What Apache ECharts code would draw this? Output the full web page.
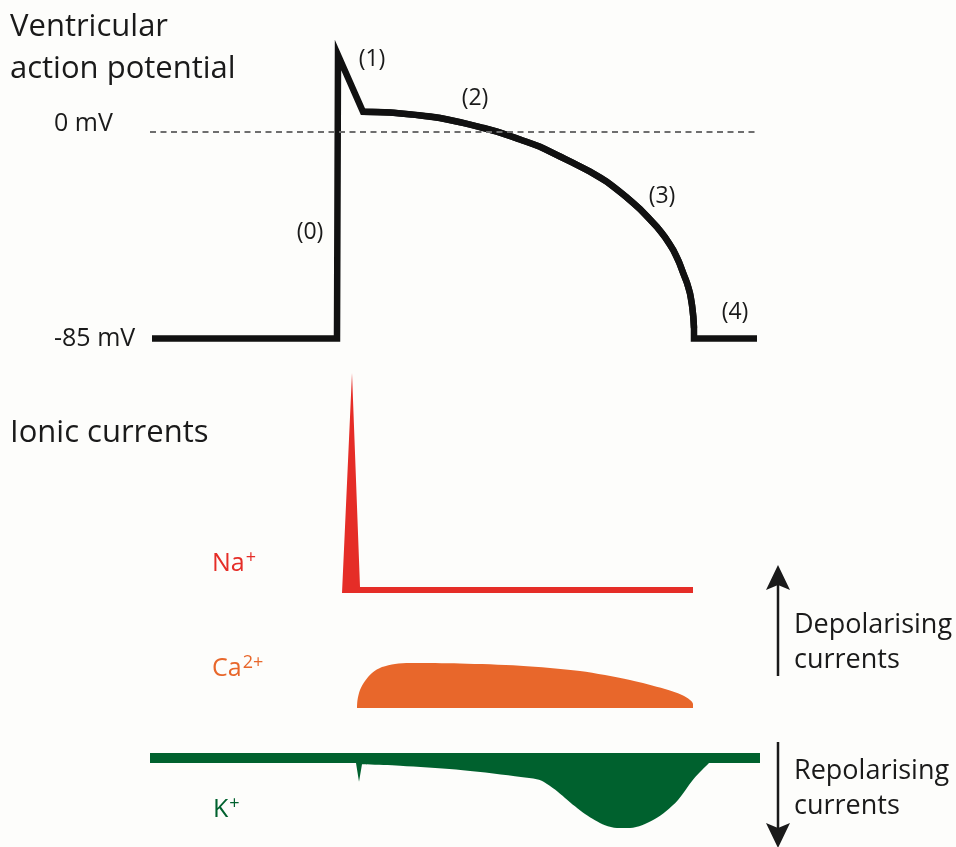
<!DOCTYPE html>
<html>
<head>
<meta charset="utf-8">
<script src="https://cdn.jsdelivr.net/npm/echarts@6/dist/echarts.min.js"></script>
<style>
html,body{margin:0;padding:0;background:#fdfdfb;}
#main{width:956px;height:847px;}
</style>
</head>
<body>
<div id="main"></div>
<script>
// ---- Data (time in ms relative to upstroke) ----
// Ventricular action potential (mV)
var apTime = [-185, 0, 1, 26, 53, 76, 103, 126, 143, 160, 183, 203, 223, 236, 253, 269.7, 289, 303, 319.7, 328, 336.3, 342, 346.3, 350, 353, 355, 356.3, 357, 357, 420];
var apMV   = [-85, -85, 31.4, 8.1, 7.8, 6.9, 5.5, 3.5, 1.8, -0.1, -3.3, -6.3, -10.3, -12.9, -16.5, -20.6, -26.8, -31.9, -39.1, -43.4, -48.7, -53.6, -58.3, -62.2, -66.5, -71.3, -76.1, -80.7, -85, -85];
// plateau / repolarisation part (phases 1-3), index range into the arrays above
var plateauFrom = 3, plateauTo = 28;
var mvTicks = [0, -85];
var phaseNames = ['(0)', '(1)', '(2)', '(3)', '(4)'];
var phaseTime  = [-27, 35, 138, 325, 398];
var phaseMV    = [-41.3, 29.7, 13.7, -26.5, -74.5];

// Na+ current (relative, depolarising)
var naTime = [5, 15, 23, 356, 356];
var naVal  = [0, 1.0, 0.027, 0.027, 0];

// Ca2+ current (relative, depolarising)
var caTime = [20, 20.5, 23, 28, 35, 45, 58, 73, 123, 183, 243, 293, 328, 345, 353, 356, 356];
var caVal  = [0, 0.18, 0.40, 0.60, 0.78, 0.91, 0.98, 1.0, 0.99, 0.94, 0.82, 0.62, 0.42, 0.29, 0.18, 0.09, 0];

// K+ current (relative, repolarising = negative)
var kBaseTime = [-187, 423];
var kBaseVal  = [0, 0];
var kSpikeTime = [15, 19, 22, 25, 30];
var kSpikeVal  = [-0.07, -0.07, -0.34, -0.09, -0.09];
var kTime = [28, 30, 63, 119, 178, 202, 210, 218, 228, 238, 248, 258, 268, 280, 293, 305, 317, 329, 341, 356, 365, 372, 376];
var kVal  = [-0.07, -0.09, -0.11, -0.165, -0.26, -0.31, -0.37, -0.45, -0.57, -0.69, -0.80, -0.89, -0.96, -1.0, -1.0, -0.96, -0.88, -0.76, -0.60, -0.31, -0.17, -0.07, 0];

function zip(a, b) { return a.map(function (v, i) { return [v, b[i]]; }); }

var FONT = 'Open Sans';
var RED = '#e52d27', ORANGE = '#e8672b', GREEN = '#00612e', INK = '#1a1a1a';

var xMin = -187, xMax = 423;
function xAx(i) { return { type: 'value', gridIndex: i, min: xMin, max: xMax, show: false }; }

function ionLabel(name, sup, color) {
  return {
    text: '{b|' + name + '}{s|' + sup + '}',
    rich: {
      b: { fontFamily: FONT, fontSize: 25, fill: color, lineHeight: 30 },
      s: { fontFamily: FONT, fontSize: 18, fill: color, verticalAlign: 'top', lineHeight: 20, padding: [0, 0, 0, 1] }
    }
  };
}

var apData = zip(apTime, apMV);

var chart = echarts.init(document.getElementById('main'), null, { renderer: 'canvas' });
chart.setOption({
  backgroundColor: '#fdfdfb',
  animation: false,
  grid: [
    { left: 150, width: 610, top: 34, height: 341 },
    { left: 150, width: 610, top: 362, height: 231 },
    { left: 150, width: 610, top: 663, height: 45 },
    { left: 150, width: 610, top: 751, height: 84 }
  ],
  xAxis: [xAx(0), xAx(1), xAx(2), xAx(3)],
  yAxis: [
    { type: 'value', gridIndex: 0, min: -100, max: 40,
      axisLine: { show: false }, axisTick: { show: false }, splitLine: { show: false },
      axisLabel: {
        customValues: mvTicks, align: 'left', margin: 96,
        formatter: function (v) { return v === 0 ? '{z|' + v + ' mV}' : '{n|' + v + ' mV}'; },
        rich: {
          z: { fontFamily: FONT, fontSize: 25, color: INK, padding: [0, 0, 16, 0] },
          n: { fontFamily: FONT, fontSize: 25, color: INK }
        }
      } },
    { type: 'value', gridIndex: 1, min: 0, max: 1.05, show: false },
    { type: 'value', gridIndex: 2, min: 0, max: 1.0, show: false },
    { type: 'value', gridIndex: 3, min: -1.1, max: 0.1, show: false }
  ],
  series: [
    { type: 'line', xAxisIndex: 0, yAxisIndex: 0, data: apData, symbol: 'none',
      lineStyle: { color: '#111', width: 6.5, join: 'miter', cap: 'butt' },
      markLine: { silent: true, symbol: 'none', label: { show: false },
        lineStyle: { color: '#6e6e6e', width: 2, type: [6, 4.5] },
        data: [[{ coord: [xMin, 0] }, { coord: [420, 0] }]] },
      markPoint: { silent: true, symbol: 'circle', symbolSize: 0,
        label: { show: true, position: 'inside', fontFamily: FONT, fontSize: 23, color: INK, formatter: '{b}' },
        data: phaseNames.map(function (n, i) { return { name: n, coord: [phaseTime[i], phaseMV[i]] }; }) },
      z: 3 },
    { type: 'line', xAxisIndex: 0, yAxisIndex: 0, data: apData.slice(plateauFrom, plateauTo), symbol: 'none',
      smooth: 0.4, lineStyle: { color: '#111', width: 6.5, cap: 'butt' }, z: 4 },
    { type: 'line', xAxisIndex: 1, yAxisIndex: 1, data: zip(naTime, naVal), symbol: 'none',
      lineStyle: { width: 0 }, areaStyle: { color: RED, opacity: 1 } },
    { type: 'line', xAxisIndex: 2, yAxisIndex: 2, data: zip(caTime, caVal), symbol: 'none', smooth: 0.3,
      lineStyle: { width: 0 }, areaStyle: { color: ORANGE, opacity: 1 } },
    { type: 'line', xAxisIndex: 3, yAxisIndex: 3, data: zip(kBaseTime, kBaseVal), symbol: 'none',
      lineStyle: { color: GREEN, width: 10, cap: 'butt' } },
    { type: 'line', xAxisIndex: 3, yAxisIndex: 3, data: zip(kSpikeTime, kSpikeVal), symbol: 'none',
      lineStyle: { width: 0 }, areaStyle: { color: GREEN, opacity: 1 } },
    { type: 'line', xAxisIndex: 3, yAxisIndex: 3, data: zip(kTime, kVal), symbol: 'none', smooth: 0.3,
      lineStyle: { width: 0 }, areaStyle: { color: GREEN, opacity: 1 } }
  ],
  graphic: [
    { type: 'text', left: 10, top: 12, style: { text: 'Ventricular', font: '31px "Open Sans"', fill: INK } },
    { type: 'text', left: 10, top: 54, style: { text: 'action potential', font: '31px "Open Sans"', fill: INK } },
    { type: 'text', left: 10, top: 418, style: { text: 'Ionic currents', font: '31px "Open Sans"', fill: INK } },
    { type: 'text', left: 212, top: 549, style: ionLabel('Na', '+', RED) },
    { type: 'text', left: 212, top: 654, style: ionLabel('Ca', '2+', ORANGE) },
    { type: 'text', left: 213, top: 795, style: ionLabel('K', '+', GREEN) },
    { type: 'text', left: 794, top: 608, style: { text: 'Depolarising\ncurrents', font: '27px "Open Sans"', lineHeight: 35, fill: INK } },
    { type: 'text', left: 794, top: 754, style: { text: 'Repolarising\ncurrents', font: '27px "Open Sans"', lineHeight: 35, fill: INK } },
    { type: 'line', shape: { x1: 778, y1: 676, x2: 778, y2: 580 }, style: { stroke: INK, lineWidth: 2.5 } },
    { type: 'polygon', shape: { points: [[778, 565], [766, 590], [778, 585], [790, 590]] }, style: { fill: INK } },
    { type: 'line', shape: { x1: 778, y1: 742, x2: 778, y2: 835 }, style: { stroke: INK, lineWidth: 2.5 } },
    { type: 'polygon', shape: { points: [[778, 848], [766, 823], [778, 828], [790, 823]] }, style: { fill: INK } }
  ]
});
</script>
</body>
</html>
